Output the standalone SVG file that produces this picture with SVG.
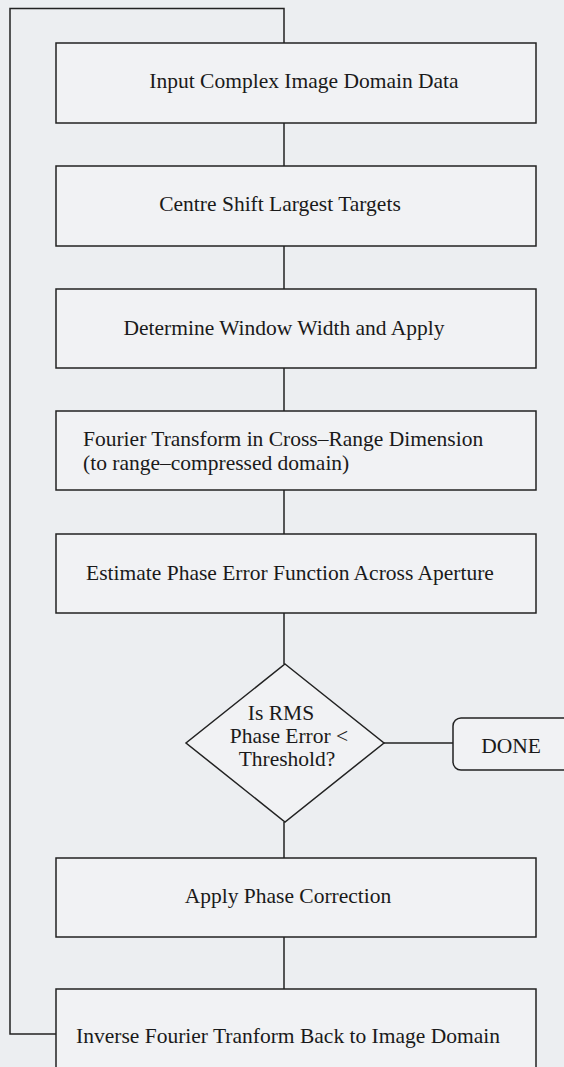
<svg xmlns="http://www.w3.org/2000/svg" width="564" height="1067" viewBox="0 0 564 1067">
<style>
.bg{fill:#eceef1}
.box{fill:#f1f2f4;stroke:#222;stroke-width:1.5}
.ln{fill:none;stroke:#222;stroke-width:1.5}
.t{font-family:"Liberation Serif","Times New Roman",serif;font-size:21.5px;fill:#1a1a1a}
.c{text-anchor:middle}
</style>
<rect class="bg" x="0" y="0" width="564" height="1067"/>
<g id="connectors">
<polyline class="ln" points="56,1034 10,1034 10,8.5 284,8.5 284,43"/>
<line class="ln" x1="284" y1="123" x2="284" y2="166"/>
<line class="ln" x1="284" y1="246" x2="284" y2="289"/>
<line class="ln" x1="284" y1="368" x2="284" y2="411"/>
<line class="ln" x1="284" y1="490" x2="284" y2="534"/>
<line class="ln" x1="284" y1="613" x2="284" y2="664"/>
<line class="ln" x1="384" y1="743" x2="453" y2="743"/>
<line class="ln" x1="284" y1="822" x2="284" y2="858"/>
<line class="ln" x1="284" y1="937" x2="284" y2="989"/>
</g>
<g id="n1"><rect class="box" x="56" y="43" width="480" height="80"/><text class="t c" x="304" y="88">Input Complex Image Domain Data</text></g>
<g id="n2"><rect class="box" x="56" y="166" width="480" height="80"/><text class="t c" x="280" y="211">Centre Shift Largest Targets</text></g>
<g id="n3"><rect class="box" x="56" y="289" width="480" height="79"/><text class="t c" x="284" y="335">Determine Window Width and Apply</text></g>
<g id="n4"><rect class="box" x="56" y="411" width="480" height="79"/><text class="t" x="83" y="446">Fourier Transform in Cross–Range Dimension</text><text class="t" x="83" y="470">(to range–compressed domain)</text></g>
<g id="n5"><rect class="box" x="56" y="534" width="480" height="79"/><text class="t c" x="290" y="580">Estimate Phase Error Function Across Aperture</text></g>
<g id="n6"><polygon class="box" points="285,664 384,743 285,822 186,743"/><text class="t c" x="281" y="720">Is RMS</text><text class="t c" x="289" y="743">Phase Error &lt;</text><text class="t c" x="287" y="766">Threshold?</text></g>
<g id="n7"><rect class="box" x="453" y="718" width="122" height="52" rx="8"/><text class="t c" x="511" y="753">DONE</text></g>
<g id="n8"><rect class="box" x="56" y="858" width="480" height="79"/><text class="t c" x="288" y="903">Apply Phase Correction</text></g>
<g id="n9"><rect class="box" x="56" y="989" width="480" height="90"/><text class="t c" x="288" y="1043">Inverse Fourier Tranform Back to Image Domain</text></g>
</svg>
